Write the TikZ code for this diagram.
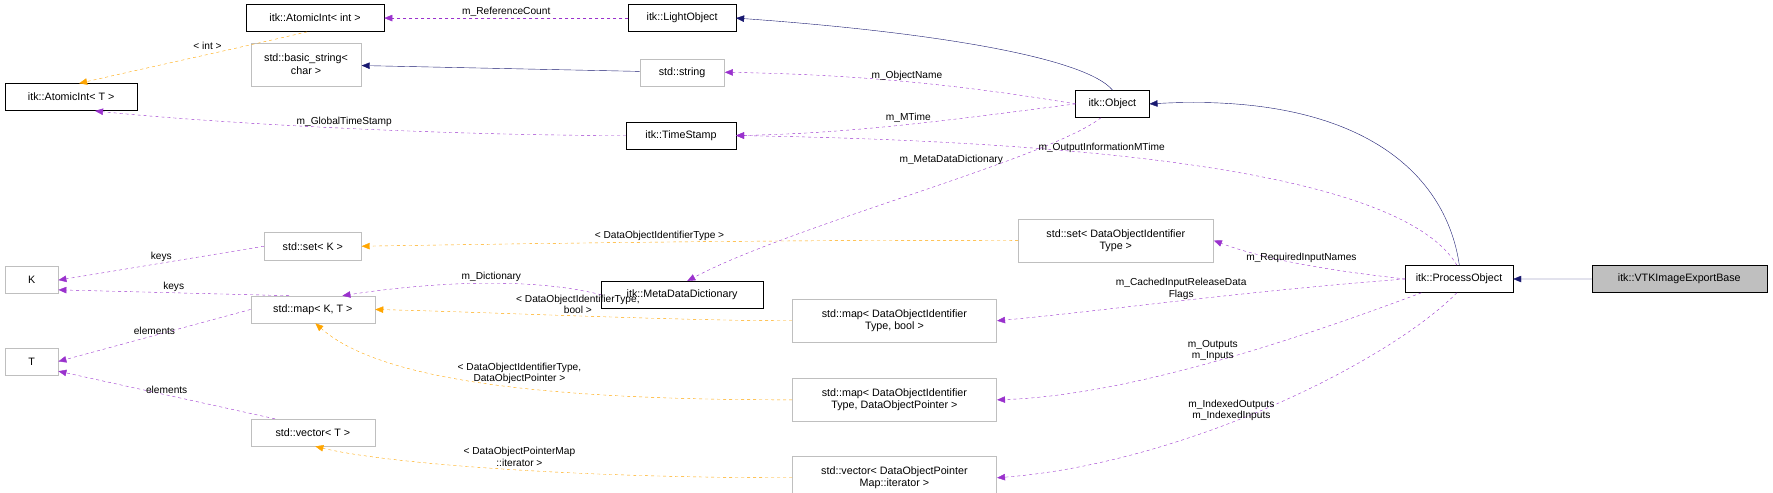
\documentclass[tikz,border=0pt]{standalone}
\usepackage{fontspec}
\setmainfont{Liberation Sans}
\usetikzlibrary{arrows.meta}
\definecolor{usecol}{HTML}{9A32CD}
\definecolor{tplcol}{HTML}{FFA500}
\definecolor{inhcol}{HTML}{191970}
\definecolor{undoc}{HTML}{BFBFBF}
\tikzset{
  cls/.style={draw=black, font=\fontsize{9.5}{11}\selectfont, inner sep=1pt, minimum height=24, align=center},
  ext/.style={cls, draw=undoc},
  use/.style={draw=usecol, dashed, -{Triangle[length=8pt,width=6.5pt]}},
  tpl/.style={draw=tplcol, dashed, -{Triangle[length=8pt,width=6.5pt]}},
  inh/.style={draw=inhcol, -{Triangle[length=8pt,width=6.5pt]}},
  lbl/.style={font=\fontsize{9}{10}\selectfont, align=center, inner sep=1pt}
}
\begin{document}
\begin{tikzpicture}[x=1pt,y=-1pt, scale=1.129, every node/.append style={transform shape}]
\useasboundingbox (0,0) rectangle (1570,436);
% classes
\node[cls, minimum width=122] (aint) at (279,16) {itk::AtomicInt< int >};
\node[cls, minimum width=95] (light) at (604,16) {itk::LightObject};
\node[cls, minimum width=117] (atomT) at (63,86) {itk::AtomicInt< T >};
\node[ext, minimum width=98, minimum height=38] (bstr) at (271,57) {std::basic\_string<\\char >};
\node[ext, minimum width=75] (str) at (604,64) {std::string};
\node[cls, minimum width=65] (obj) at (985,92) {itk::Object};
\node[cls, minimum width=97] (ts) at (603,120) {itk::TimeStamp};
\node[ext, minimum width=86] (setK) at (277,218) {std::set< K >};
\node[ext, minimum width=173, minimum height=38] (setD) at (988,213) {std::set< DataObjectIdentifier\\Type >};
\node[ext, minimum width=47] (K) at (28,248) {K};
\node[cls, minimum width=143] (mdd) at (604,261) {itk::MetaDataDictionary};
\node[cls, minimum width=95] (po) at (1292,247) {itk::ProcessObject};
\node[cls, minimum width=155, fill=undoc] (vtk) at (1487,247) {itk::VTKImageExportBase};
\node[ext, minimum width=110] (map) at (277,274) {std::map< K, T >};
\node[ext, minimum width=181, minimum height=38] (mapB) at (792,284) {std::map< DataObjectIdentifier\\Type, bool >};
\node[ext, minimum width=47] (T) at (28,320) {T};
\node[ext, minimum width=181, minimum height=38] (mapP) at (792,354) {std::map< DataObjectIdentifier\\Type, DataObjectPointer >};
\node[ext, minimum width=110] (vecT) at (277,383) {std::vector< T >};
\node[ext, minimum width=181, minimum height=38] (vecP) at (792,423) {std::vector< DataObjectPointer\\Map::iterator >};
% inheritance
\draw[inh] (vtk) -- (po);
\draw[inh] (po.north) .. controls (1280,150) and (1200,82) .. (obj.east);
\draw[inh] (obj.north) .. controls (960,50) and (820,28) .. (light.east);
\draw[inh] (str) -- (bstr);
% members
\draw[use] (light) -- node[lbl, above] {m\_ReferenceCount} (aint);
\draw[tpl] (aint.-120) .. controls (200,45) and (130,60) .. node[lbl, pos=0.35, above left] {< int >} (atomT.60);
\draw[use] (obj.west) .. controls (850,75) and (760,66) .. node[lbl, above, pos=0.5] {m\_ObjectName} (str.east);
\draw[use] (obj.west) .. controls (850,105) and (760,118) .. node[lbl, above, pos=0.5] {m\_MTime} (ts.east);
\draw[use] (obj.-130) .. controls (930,140) and (700,200) .. node[lbl, pos=0.3, left=4pt] {m\_MetaDataDictionary} (mdd.70);
\draw[use] (ts.west) .. controls (400,120) and (200,110) .. node[lbl, above, pos=0.5] {m\_GlobalTimeStamp} (atomT.-30);
\draw[use] (po.100) .. controls (1240,150) and (950,125) .. node[lbl, above, pos=0.62] {m\_OutputInformationMTime} (ts.east);
\draw[use] (po.west) .. controls (1180,240) and (1120,230) .. node[lbl, above, pos=0.5] {m\_RequiredInputNames} (setD.east);
\draw[use] (po.west) .. controls (1100,258) and (980,275) .. node[lbl, above, pos=0.5] {m\_CachedInputReleaseData\\Flags} (mapB.east);
\draw[use] (po.-160) .. controls (1150,300) and (1000,350) .. node[lbl, above, pos=0.5] {m\_Outputs\\m\_Inputs} (mapP.east);
\draw[use] (po.-100) .. controls (1230,320) and (1050,410) .. node[lbl, above, pos=0.58] {m\_IndexedOutputs\\m\_IndexedInputs} (vecP.east);
\draw[tpl] (setD.west) .. controls (700,212) and (450,216) .. node[lbl, above] {< DataObjectIdentifierType >} (setK.east);
\draw[use] (setK.west) -- node[lbl, above] {keys} (K.east);
\draw[use] (map.150) -- node[lbl, above] {keys} (K.-20);
\draw[use] (map.west) -- node[lbl, above] {elements} (T.east);
\draw[use] (vecT.160) -- node[lbl, above] {elements} (T.-20);
\draw[use] (mdd.west) .. controls (470,245) and (380,250) .. node[lbl, above, pos=0.45] {m\_Dictionary} (map.25);
\draw[tpl] (mapB.west) .. controls (600,284) and (420,276) .. node[lbl, above=1pt, pos=0.5] {< DataObjectIdentifierType,\\bool >} (map.east);
\draw[tpl] (mapP.west) .. controls (500,354) and (340,340) .. node[lbl, above=2pt, pos=0.45] {< DataObjectIdentifierType,\\DataObjectPointer >} (map.-80);
\draw[tpl] (vecP.west) .. controls (500,423) and (340,410) .. node[lbl, above=2pt, pos=0.45] {< DataObjectPointerMap\\::iterator >} (vecT.-80);
\end{tikzpicture}
\end{document}
